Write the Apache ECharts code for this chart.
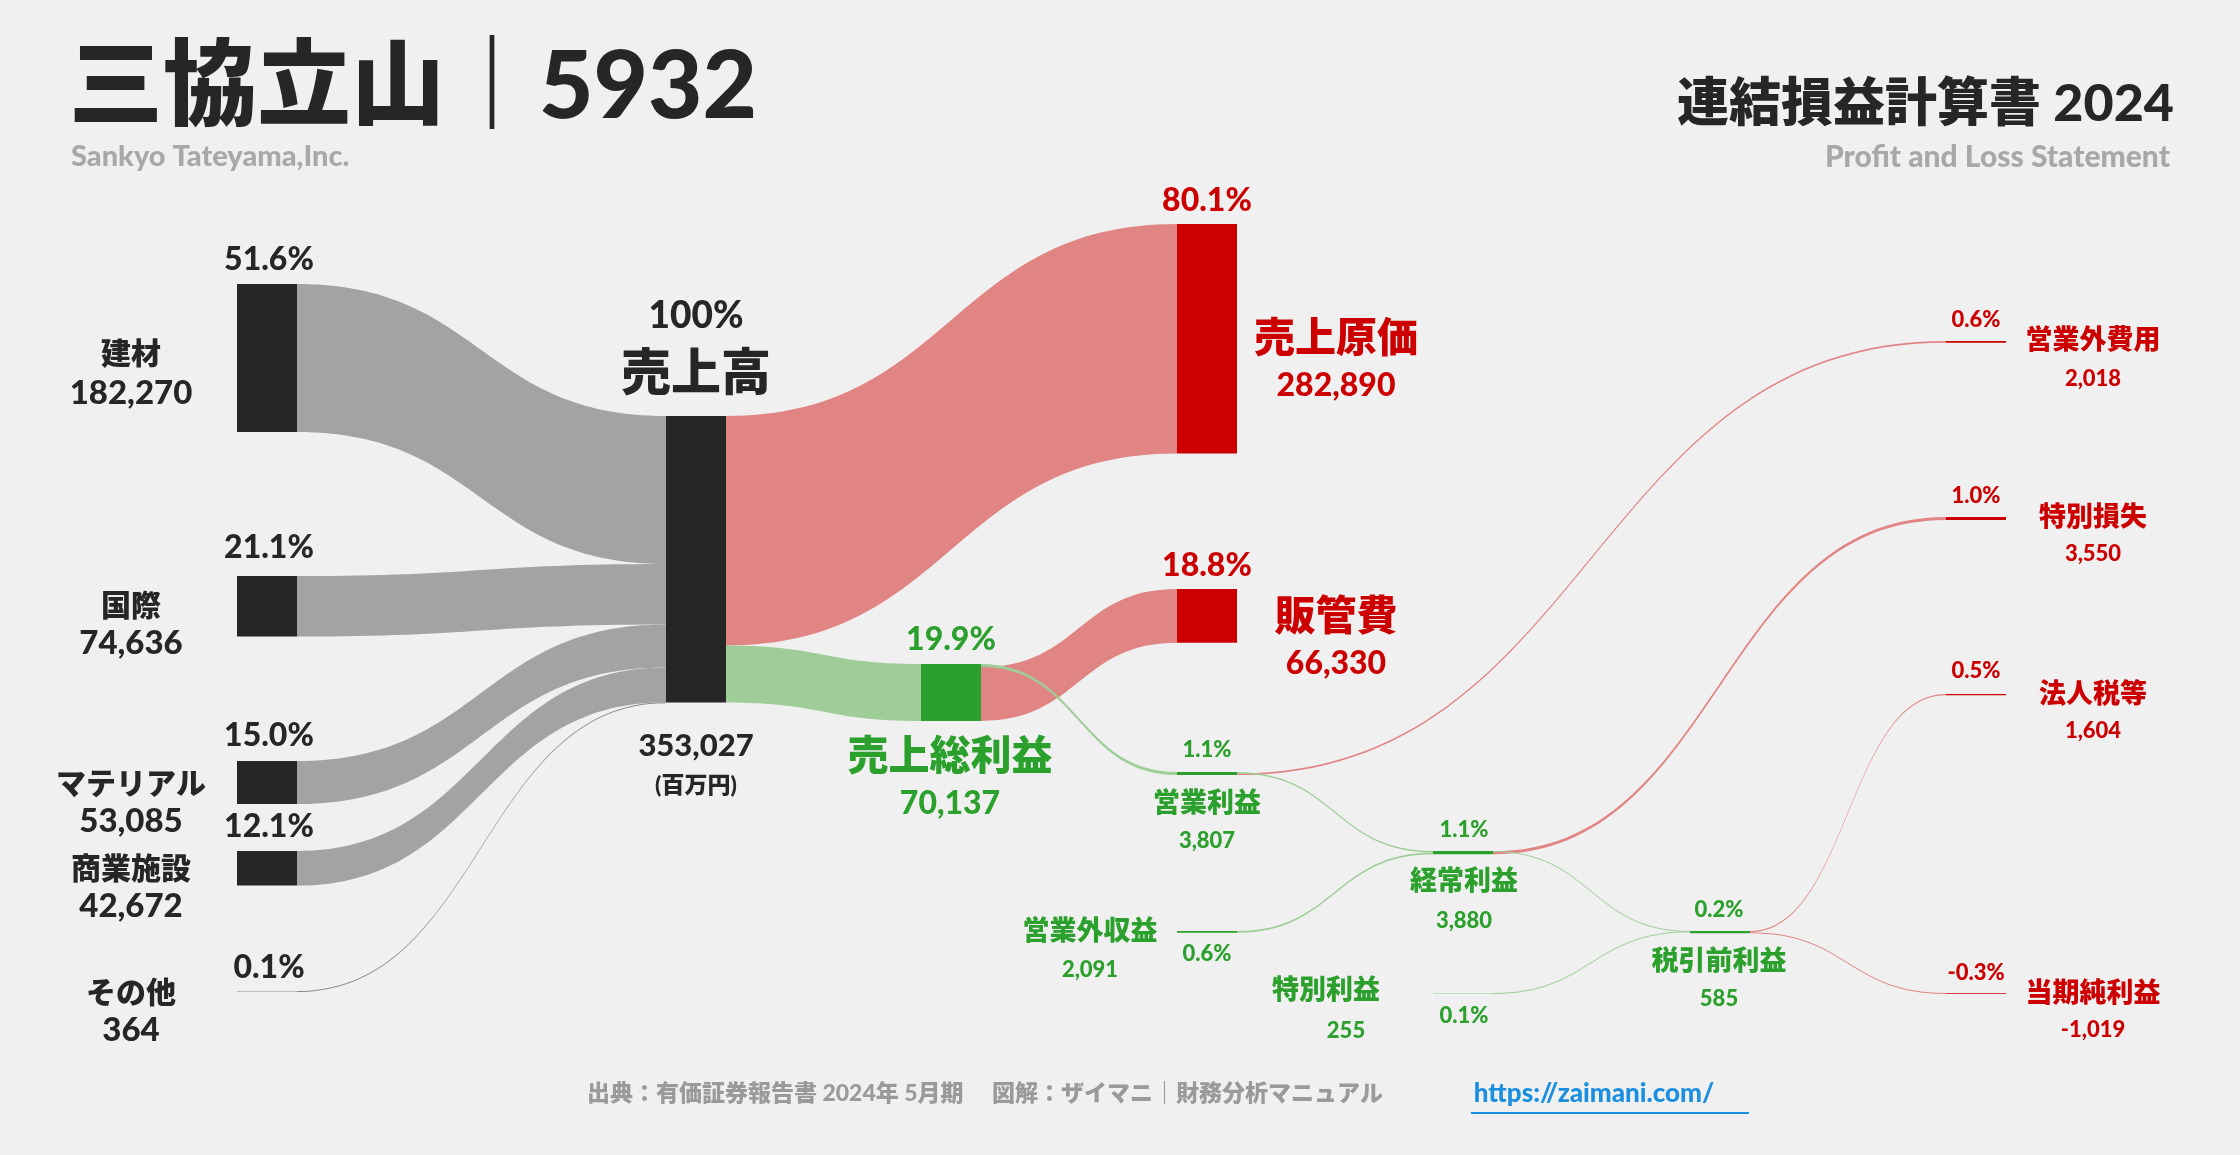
<!DOCTYPE html>
<html>
<head>
<meta charset="utf-8">
<script src="https://cdn.jsdelivr.net/npm/echarts@6/dist/echarts.min.js"></script>
<style>html,body{margin:0;padding:0;background:#f0f0f0;}#main{width:2240px;height:1155px;}</style>
</head>
<body>
<div id="main"></div>
<script>
// ノード名・値
var segNames = ['建材', '国際', 'マテリアル', '商業施設', 'その他'];
var segValues = [182270, 74636, 53085, 42672, 364];
var segPct = ['51.6%', '21.1%', '15.0%', '12.1%', '0.1%'];

var plNames = ['売上高', '売上原価', '売上総利益', '販管費', '営業利益', '営業外収益', '営業外費用',
               '経常利益', '特別利益', '特別損失', '税引前利益', '法人税等', '当期純利益'];
var plValues = [353027, 282890, 70137, 66330, 3807, 2091, 2018, 3880, 255, 3550, 585, 1604, -1019];
var plPct = ['100%', '80.1%', '19.9%', '18.8%', '1.1%', '0.6%', '0.6%', '1.1%', '0.1%', '1.0%', '0.2%', '0.5%', '-0.3%'];

// [source, target, value]
var flows = [
    ['建材', '売上高', 182270], ['国際', '売上高', 74636], ['マテリアル', '売上高', 53085],
    ['商業施設', '売上高', 42672], ['その他', '売上高', 364],
    ['売上高', '売上原価', 282890], ['売上高', '売上総利益', 70137],
    ['売上総利益', '販管費', 66330], ['売上総利益', '営業利益', 3807],
    ['営業利益', '営業外費用', 2018], ['営業利益', '経常利益', 1789], ['営業外収益', '経常利益', 2091],
    ['経常利益', '特別損失', 3550], ['経常利益', '税引前利益', 330], ['特別利益', '税引前利益', 255],
    ['税引前利益', '法人税等', 1604], ['税引前利益', '当期純利益', 1019]
];

var RED = '#cc0000', GREEN = '#2ca02c', DARK = '#262626';
var H = 295;
// ノード位置 [x, y] (px)
var pos = {
    '建材': [237, 284], '国際': [237, 576], 'マテリアル': [237, 761], '商業施設': [237, 851], 'その他': [237, 991],
    '売上高': [666, 416], '売上原価': [1177, 224], '売上総利益': [921, 664], '販管費': [1177, 589],
    '営業利益': [1177, 772], '営業外収益': [1177, 931], '経常利益': [1433, 851], '特別利益': [1433, 993],
    '税引前利益': [1690, 931], '営業外費用': [1946, 341], '特別損失': [1946, 517], '法人税等': [1946, 694], '当期純利益': [1946, 993]
};
var colorOf = {
    '売上原価': RED, '販管費': RED, '営業外費用': RED, '特別損失': RED, '法人税等': RED, '当期純利益': RED,
    '売上総利益': GREEN, '営業利益': GREEN, '営業外収益': GREEN, '経常利益': GREEN, '特別利益': GREEN, '税引前利益': GREEN
};
var allNames = segNames.concat(plNames);
var nodes = allNames.map(function (n) {
    return {name: n, localX: pos[n][0] / 2240, localY: pos[n][1] / H,
        itemStyle: {color: colorOf[n] || DARK, borderWidth: 0}};
});
var links = flows.map(function (f) {
    var c = colorOf[f[1]] === RED ? '#e08583' : (colorOf[f[1]] === GREEN ? '#9ecd98' : '#a3a3a3');
    if (f[0] === 'その他') c = '#8a8a8a';
    return {source: f[0], target: f[1], value: f[2], lineStyle: {color: c, opacity: 1}};
});

function fmt(v) { return v.toLocaleString('en-US'); }
var FONT = 'Lato, "Noto Sans CJK JP", sans-serif';
var texts = [];
function t(x, y, str, size, color, align, weight) {
    texts.push({type: 'text', x: x, y: y, style: {text: str, fontSize: size, fill: color,
        fontFamily: FONT, fontWeight: weight || 900, textAlign: align || 'center', textVerticalAlign: 'middle'}});
}
// 表題
t(69, 88, '三協立山｜5932', 94, DARK, 'left', 900);
t(71, 157, 'Sankyo Tateyama,Inc.', 29, '#a8a8a8', 'left');
t(2174, 104, '連結損益計算書 2024', 52, DARK, 'right', 900);
t(2170, 157, 'Profit and Loss Statement', 30, '#a8a8a8', 'right');
// セグメント
var segLab = [[354, 393, 260], [606, 643, 548], [784, 821, 736], [869, 906, 827], [993, 1030, 968]];
segNames.forEach(function (n, i) {
    t(269, segLab[i][2], segPct[i], 32, DARK);
    t(131, segLab[i][0], n, 30, DARK);
    t(131, segLab[i][1], fmt(segValues[i]), 33, DARK);
});
// 損益ラベル [pctX, pctY, nameX, nameY, valY, nameSize, valSize, pctSize]
var plLab = {
    '売上高': [696, 316, 696, 374, 746, 50, 31, 37],
    '売上原価': [1207, 201, 1336, 339, 386, 41, 32, 32],
    '売上総利益': [951, 640, 950, 757, 804, 41, 32, 32],
    '販管費': [1207, 566, 1336, 617, 664, 41, 32, 32],
    '営業利益': [1207, 750, 1207, 803, 841, 27, 22, 22],
    '営業外収益': [1207, 954, 1090, 931, 970, 27, 22, 22],
    '経常利益': [1464, 830, 1464, 881, 921, 27, 22, 22],
    '特別利益': [1464, 1016, 1326, 990, 1031, 27, 22, 22],
    '税引前利益': [1719, 910, 1719, 961, 999, 27, 22, 22],
    '営業外費用': [1976, 320, 2093, 340, 379, 27, 22, 22],
    '特別損失': [1976, 496, 2093, 517, 554, 27, 22, 22],
    '法人税等': [1976, 671, 2093, 694, 731, 27, 22, 22],
    '当期純利益': [1976, 973, 2093, 993, 1030, 27, 22, 22]
};
plNames.forEach(function (n, i) {
    var L = plLab[n], c = colorOf[n] || DARK;
    var vx = L[2];
    if (n === '特別利益') vx = 1346;
    t(L[0], L[1], plPct[i], L[7], c);
    t(L[2], L[3], n, L[5], c);
    t(vx, L[4], fmt(plValues[i]), L[6], c);
});
t(696, 786, '(百万円)', 23, DARK);
// 出典
t(985, 1094, '出典：有価証券報告書 2024年 5月期　 図解：ザイマニ｜財務分析マニュアル', 23, '#9a9a9a');
t(1594, 1094, 'https://zaimani.com/', 26, '#1a8fe0');
texts.push({type: 'rect', shape: {x: 1471, y: 1112, width: 278, height: 2}, style: {fill: '#1a8fe0'}});

var chart = echarts.init(document.getElementById('main'));
chart.setOption({
    backgroundColor: '#f0f0f0',
    animation: false,
    graphic: texts,
    series: [{
        type: 'sankey',
        left: 0, top: 0, width: 2240, height: H,
        nodeWidth: 60, nodeGap: 1, layoutIterations: 0,
        draggable: false,
        emphasis: {disabled: true},
        label: {show: false},
        lineStyle: {curveness: 0.5},
        data: nodes,
        links: links
    }]
});
</script>
</body>
</html>
